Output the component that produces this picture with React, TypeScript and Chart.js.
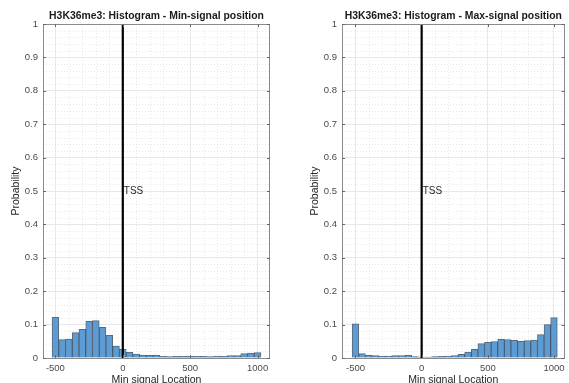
import React, { useEffect, useRef } from "react";
import { Chart, registerables } from "chart.js";

Chart.register(...registerables);

// ---- data ----
const BIN_CENTERS = [
  -500, -450, -400, -350, -300, -250, -200, -150, -100, -50, 0, 50, 100, 150, 200, 250,
  300, 350, 400, 450, 500, 550, 600, 650, 700, 750, 800, 850, 900, 950, 1000,
];
const MIN_SIGNAL_PROB = [
  0.122, 0.055, 0.057, 0.076, 0.086, 0.11, 0.112, 0.092, 0.068, 0.036, 0.026, 0.017, 0.012,
  0.009, 0.008, 0.009, 0.005, 0.004, 0.005, 0.005, 0.005, 0.005, 0.005, 0.004, 0.006, 0.005,
  0.007, 0.007, 0.013, 0.015, 0.016,
];
const MAX_SIGNAL_PROB = [
  0.102, 0.013, 0.008, 0.007, 0.006, 0.006, 0.007, 0.007, 0.008, 0.004, 0.003, 0.003, 0.004,
  0.005, 0.006, 0.007, 0.011, 0.018, 0.026, 0.043, 0.047, 0.049, 0.056, 0.055, 0.053, 0.05,
  0.052, 0.054, 0.07, 0.1, 0.121,
];
const X_TICKS = [-500, 0, 500, 1000];
const Y_TICKS = [0, 0.1, 0.2, 0.3, 0.4, 0.5, 0.6, 0.7, 0.8, 0.9, 1];
const TSS_X = 0;
const TSS_Y = 0.5;
const TSS_TEXT = "TSS";
const TITLE_MIN = "H3K36me3: Histogram - Min-signal position";
const TITLE_MAX = "H3K36me3: Histogram - Max-signal position";
const X_LABEL = "Min signal Location";
const Y_LABEL = "Probability";

const FONT = "'Liberation Sans', Arial, Helvetica, sans-serif";

const matlabPlugin = {
  id: "matlabAxes",
  beforeDatasetsDraw(chart: any) {
    const { ctx, chartArea: a, scales } = chart;
    const x = scales.x;
    const y = scales.y;
    ctx.save();
    ctx.strokeStyle = "rgba(215,215,215,0.55)";
    ctx.lineWidth = 1;
    ctx.setLineDash([1, 2]);
    ctx.beginPath();
    for (let v = Math.ceil(x.min / 100) * 100; v <= x.max; v += 100) {
      if (v % 500 === 0) continue;
      const px = Math.round(x.getPixelForValue(v)) + 0.5;
      ctx.moveTo(px, a.top);
      ctx.lineTo(px, a.bottom);
    }
    for (let i = 1; i < 50; i++) {
      if (i % 5 === 0) continue;
      const py = Math.round(y.getPixelForValue(i * 0.02)) + 0.5;
      ctx.moveTo(a.left, py);
      ctx.lineTo(a.right, py);
    }
    ctx.stroke();
    ctx.restore();
  },
  afterDatasetsDraw(chart: any, _args: any, opts: any) {
    const { ctx, chartArea: a, scales } = chart;
    const x = scales.x;
    const y = scales.y;
    ctx.save();
    // box
    ctx.strokeStyle = "#8a8a8a";
    ctx.lineWidth = 1;
    ctx.setLineDash([]);
    ctx.strokeRect(Math.round(a.left) + 0.5, Math.round(a.top) + 0.5, Math.round(a.right - a.left) - 1, Math.round(a.bottom - a.top));
    // inward ticks
    ctx.strokeStyle = "#666";
    ctx.beginPath();
    const tl = 3;
    for (const v of X_TICKS) {
      const px = Math.round(x.getPixelForValue(v)) + 0.5;
      ctx.moveTo(px, a.bottom);
      ctx.lineTo(px, a.bottom - tl);
      ctx.moveTo(px, a.top);
      ctx.lineTo(px, a.top + tl);
    }
    for (const v of Y_TICKS) {
      const py = Math.round(y.getPixelForValue(v)) + 0.5;
      ctx.moveTo(a.left, py);
      ctx.lineTo(a.left + tl, py);
      ctx.moveTo(a.right, py);
      ctx.lineTo(a.right - tl, py);
    }
    ctx.stroke();
    // TSS label
    ctx.fillStyle = "#262626";
    ctx.font = `10px ${FONT}`;
    ctx.textAlign = "left";
    ctx.textBaseline = "middle";
    ctx.fillText(TSS_TEXT, x.getPixelForValue(TSS_X) + 1, y.getPixelForValue(TSS_Y));
    // title
    ctx.fillStyle = "#1a1a1a";
    ctx.font = `bold 10.4px ${FONT}`;
    ctx.textAlign = "center";
    ctx.fillText(opts.title, (a.left + a.right) / 2, 15.7);
    ctx.restore();
  },
};

function makeConfig(values: number[], title: string, xMin: number, xMax: number, yAxisWidth: number, rightPad: number): any {
  return {
    type: "bar",
    data: {
      datasets: [
        {
          type: "line",
          data: [
            { x: TSS_X, y: 0 },
            { x: TSS_X, y: 1 },
          ],
          borderColor: "#000",
          borderWidth: 2.2,
          pointRadius: 0,
          order: 0,
        },
        {
          type: "bar",
          data: BIN_CENTERS.map((c, i) => ({ x: c, y: values[i] })),
          backgroundColor: "rgb(92,156,212)",
          borderColor: "rgba(35,55,80,0.75)",
          borderWidth: 1,
          barPercentage: 1,
          categoryPercentage: 1,
          order: 1,
        },
      ],
    },
    options: {
      responsive: false,
      animation: false,
      devicePixelRatio: 1,
      layout: { padding: { left: 0, right: rightPad, top: 24, bottom: 0 } },
      plugins: {
        legend: { display: false },
        tooltip: { enabled: false },
        title: { display: false },
        matlabAxes: { title },
      },
      scales: {
        x: {
          type: "linear",
          min: xMin,
          max: xMax,
          offset: false,
          border: { display: false },
          grid: { color: "#e8e8e8", lineWidth: 1, drawTicks: false, offset: false },
          afterBuildTicks: (s: any) => {
            s.ticks = X_TICKS.map((v) => ({ value: v }));
          },
          afterFit: (s: any) => {
            s.height = 34;
          },
          ticks: {
            padding: 4.4,
            color: "#4a4a4a",
            font: { family: FONT, size: 9.5 },
            maxRotation: 0,
            autoSkip: false,
            callback: (v: any) => String(v),
          },
          title: {
            display: true,
            text: X_LABEL,
            color: "#262626",
            font: { family: FONT, size: 10.5 },
            padding: { top: 0, bottom: 5.9 },
          },
        },
        y: {
          type: "linear",
          min: 0,
          max: 1,
          border: { display: false },
          grid: { color: "#e8e8e8", lineWidth: 1, drawTicks: false },
          afterBuildTicks: (s: any) => {
            s.ticks = Y_TICKS.map((v) => ({ value: v }));
          },
          afterFit: (s: any) => {
            s.width = yAxisWidth;
          },
          ticks: {
            padding: 5,
            color: "#4a4a4a",
            font: { family: FONT, size: 9.5 },
            callback: (v: any) => String(Math.round(v * 10) / 10),
          },
          title: {
            display: true,
            text: Y_LABEL,
            color: "#262626",
            font: { family: FONT, size: 10.5 },
            padding: { top: yAxisWidth - 33.3, bottom: 0 },
          },
        },
      },
    },
    plugins: [matlabPlugin],
  };
}

function Panel(props: { left: number; width: number; values: number[]; title: string; xMin: number; xMax: number; yAxisWidth: number; rightPad: number }) {
  const ref = useRef<HTMLCanvasElement | null>(null);
  useEffect(() => {
    if (!ref.current) return;
    const chart = new Chart(ref.current, makeConfig(props.values, props.title, props.xMin, props.xMax, props.yAxisWidth, props.rightPad));
    return () => chart.destroy();
  }, []);
  return (
    <canvas
      ref={ref}
      width={props.width}
      height={392}
      style={{ position: "absolute", left: props.left, top: 0, width: props.width, height: 392 }}
    />
  );
}

export default function App() {
  return (
    <div style={{ position: "fixed", left: 0, top: 0, width: 569, height: 383, overflow: "hidden", background: "#fff" }}>
      <Panel left={0} width={285} values={MIN_SIGNAL_PROB} title={TITLE_MIN} xMin={-592} xMax={1092} yAxisWidth={43} rightPad={15} />
      <Panel left={285} width={284} values={MAX_SIGNAL_PROB} title={TITLE_MAX} xMin={-602} xMax={1080} yAxisWidth={57} rightPad={1} />
    </div>
  );
}
